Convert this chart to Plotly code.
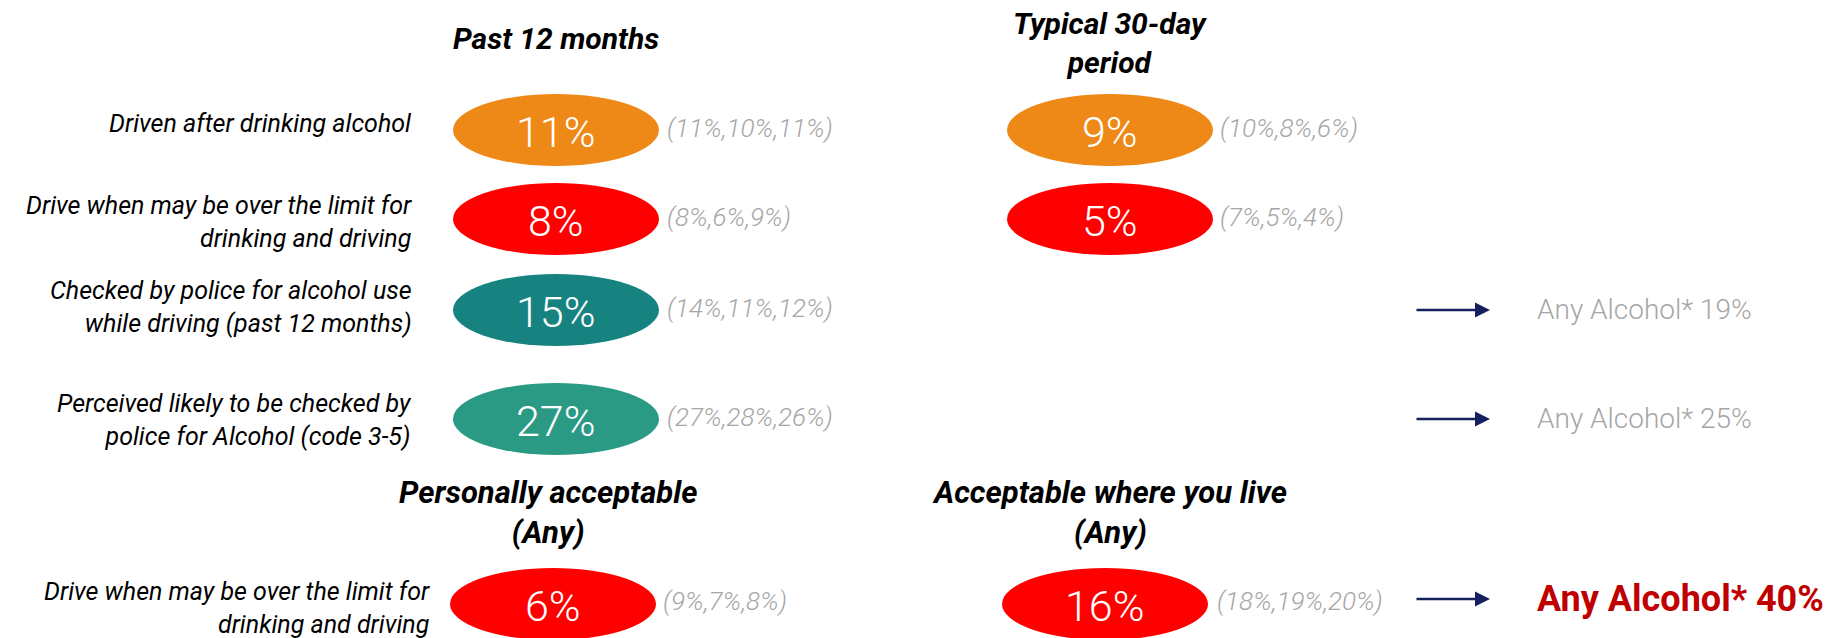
import plotly.graph_objects as go

# ---------------- data ----------------
row_labels = [
    "Driven after drinking alcohol",
    "Drive when may be over the limit for<br>drinking and driving",
    "Checked by police for alcohol use<br>while driving (past 12 months)",
    "Perceived likely to be checked by<br>police for Alcohol (code 3-5)",
]
past12_values = [11, 8, 15, 27]
past12_previous = ["(11%,10%,11%)", "(8%,6%,9%)", "(14%,11%,12%)", "(27%,28%,26%)"]

typical30_values = [9, 5]
typical30_previous = ["(10%,8%,6%)", "(7%,5%,4%)"]

any_alcohol_checks = [19, 25]  # rows 3 and 4

accept_label = "Drive when may be over the limit for<br>drinking and driving"
personal_value = 6
personal_previous = "(9%,7%,8%)"
where_live_value = 16
where_live_previous = "(18%,19%,20%)"
any_alcohol_accept = 40

headers_top = ["Past 12 months", "Typical 30-day<br>period"]
headers_bottom = ["Personally acceptable<br>(Any)", "Acceptable where you live<br>(Any)"]

# ---------------- layout / style ----------------
W, H = 1843, 638
ORANGE = "#EE8816"
RED = "#FF0000"
TEAL_DARK = "#178380"
TEAL = "#2A9A85"
GREY = "#A6A6A6"
NAVY = "#17205E"
DARKRED = "#C00000"
FONT = "Roboto"

row_colors = [ORANGE, RED, TEAL_DARK, TEAL]
row_y = [130, 219, 310, 419]
accept_y = 604
col_x = [556, 1110]
ell_w, ell_h = 206, 72
label_right = 414
label_y = [123, 222, 307, 420]

fig = go.Figure()
shapes = []
ann = []


def ellipse(cx, cy, color, value):
    shapes.append(dict(type="circle", xref="x", yref="y",
                       x0=cx - ell_w / 2, x1=cx + ell_w / 2,
                       y0=cy - ell_h / 2, y1=cy + ell_h / 2,
                       fillcolor=color, line=dict(width=0), layer="below"))
    ann.append(dict(x=cx, y=cy + 2, text=f"{value}%", showarrow=False,
                    xanchor="center", yanchor="middle",
                    font=dict(family=FONT, size=43, color="white", weight=300)))


def prev_text(x, y, text):
    ann.append(dict(x=x, y=y, text=text, showarrow=False,
                    xanchor="left", yanchor="middle",
                    font=dict(family=FONT, size=26, color=GREY, style="italic", weight=300)))


def header(x, y, text, size):
    ann.append(dict(x=x, y=y, text=text, showarrow=False,
                    xanchor="center", yanchor="middle", align="center",
                    font=dict(family=FONT, size=size, color="black", style="italic", weight="bold")))


def arrow(y):
    ann.append(dict(x=1490, y=y, ax=1415, ay=y, axref="x", ayref="y",
                    xref="x", yref="y", text="", showarrow=True,
                    arrowhead=2, arrowsize=1.2, arrowwidth=2.5, arrowcolor=NAVY))


# headers
header(col_x[0], 38, headers_top[0], 30)
header(col_x[1], 43, headers_top[1], 30)
header(548, 512, headers_bottom[0], 31)
header(1109, 512, headers_bottom[1], 31)

# rows
for i, lab in enumerate(row_labels):
    ann.append(dict(x=label_right, y=label_y[i], text=lab, showarrow=False,
                    xanchor="right", yanchor="middle", align="right",
                    font=dict(family=FONT, size=25, color="black", style="italic", weight=400)))
    ellipse(col_x[0], row_y[i], row_colors[i], past12_values[i])
    prev_text(col_x[0] + ell_w / 2 + 6, row_y[i] - 2, past12_previous[i])

for i, v in enumerate(typical30_values):
    ellipse(col_x[1], row_y[i], row_colors[i], v)
    prev_text(col_x[1] + ell_w / 2 + 5, row_y[i] - 2, typical30_previous[i])

for j, v in enumerate(any_alcohol_checks):
    yy = row_y[2 + j]
    arrow(yy)
    ann.append(dict(x=1535, y=yy - 1, text=f"Any Alcohol* {v}%", showarrow=False,
                    xanchor="left", yanchor="middle",
                    font=dict(family=FONT, size=28, color=GREY, weight=300)))

# acceptability row
ann.append(dict(x=432, y=608, text=accept_label, showarrow=False,
                xanchor="right", yanchor="middle", align="right",
                font=dict(family=FONT, size=25, color="black", style="italic", weight=400)))
ellipse(553, accept_y, RED, personal_value)
prev_text(553 + ell_w / 2 + 5, accept_y - 3, personal_previous)
ellipse(1105, accept_y, RED, where_live_value)
prev_text(1105 + ell_w / 2 + 7, accept_y - 3, where_live_previous)
arrow(599)
ann.append(dict(x=1535, y=599, text=f"Any Alcohol* {any_alcohol_accept}%", showarrow=False,
                xanchor="left", yanchor="middle",
                font=dict(family=FONT, size=36, color=DARKRED, weight="bold")))

fig.update_layout(
    width=W, height=H,
    margin=dict(l=0, r=0, t=0, b=0),
    paper_bgcolor="white", plot_bgcolor="white",
    xaxis=dict(range=[0, W], visible=False, fixedrange=True),
    yaxis=dict(range=[H, 0], visible=False, fixedrange=True),
    shapes=shapes, annotations=ann, showlegend=False,
)

fig.write_html("out.html",
               config={"displayModeBar": False},
               post_script="document.body.style.margin='0';document.body.style.overflow='hidden';")
